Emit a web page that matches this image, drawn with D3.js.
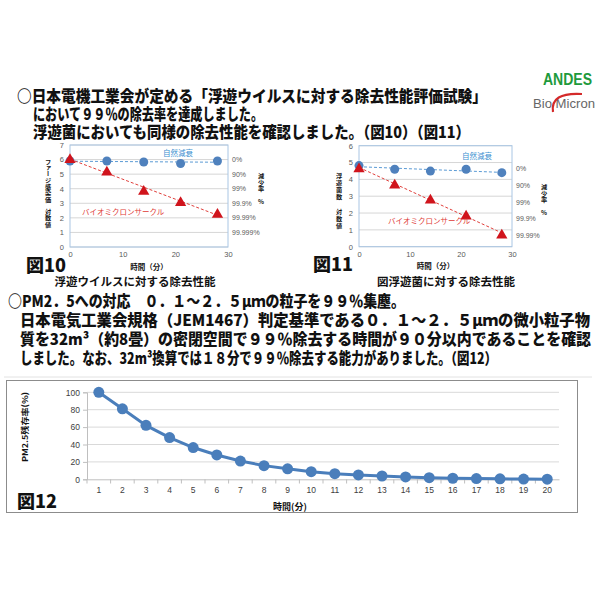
<!DOCTYPE html>
<html><head><meta charset="utf-8">
<script src="https://cdn.jsdelivr.net/npm/d3@7"></script>
<style>body{margin:0;background:#fff}svg{display:block}</style>
</head><body><svg id="c" width="600" height="600"></svg>
<script>
// ---------- data ----------
const headerLines = [
  "○日本電機工業会が定める「浮遊ウイルスに対する除去性能評価試験」",
  "において９９％の除去率を達成しました。",
  "浮遊菌においても同様の除去性能を確認しました。（図10）（図11）"
];
const pmLines = [
  "○PM2．5への対応　０．１～２．５μｍの粒子を９９％集塵。",
  "日本電気工業会規格（JEM1467）判定基準である０．１～２．５μｍの微小粒子物",
  "質を32m³（約8畳）の密閉空間で９９％除去する時間が９０分以内であることを確認",
  "しました。なお、32m³換算では１８分で９９％除去する能力がありました。（図12）"
];
const time = [0, 7, 14, 21, 28];
const timeTicks = [0, 10, 20, 30];
const natural10 = [5.9, 5.9, 5.83, 5.73, 5.9];
const bio10 = [6.05, 5.2, 3.88, 3.1, 2.3];
const reduction10 = ["0%", "90%", "99%", "99.9%", "99.99%", "99.999%"];
const natural11 = [4.82, 4.6, 4.49, 4.6, 4.4];
const bio11 = [4.68, 3.71, 2.82, 1.87, 0.74];
const reduction11 = ["0%", "90%", "99%", "99.9%", "99.99%"];
const minutes = ["1","2","3","4","5","6","7","8","9","10","11","12","13","14","15","16","17","18","19","20"];
const remain = [100, 81, 62, 48, 36.5, 28, 21, 15.7, 12, 8.8, 6.5, 5, 3.8, 2.7, 1.9, 1.2, 0.8, 0.5, 0.3, 0.2];
const remainTicks = [0, 20, 40, 60, 80, 100];

// ---------- setup ----------
const svg = d3.select("#c");
svg.append("rect").attr("width", 600).attr("height", 600).attr("fill", "#fff");
const JP = "'Noto Sans CJK JP','Noto Sans',sans-serif";
const NUM = "'Liberation Sans',Arial,sans-serif";

function fitText(x, y, str, size, len, sy) {
  return svg.append("text").attr("transform", `translate(${x},${y}) scale(1,${sy})`)
    .attr("x", 0).attr("y", 0)
    .attr("dominant-baseline", "central")
    .attr("font-family", JP).attr("font-weight", 900).attr("font-size", size)
    .attr("fill", "#111")
    .attr("textLength", len).attr("lengthAdjust", "spacingAndGlyphs")
    .text(str);
}

// header
const hdr = [[17, 95, 470], [33, 113, 230], [33, 131, 437]];
headerLines.forEach((s, i) => fitText(hdr[i][0], hdr[i][1], s, 14, hdr[i][2], 1.15));
const pmPos = [[8, 300, 397], [20, 319, 570], [20, 338, 571], [20, 357, 477]];
pmLines.forEach((s, i) => fitText(pmPos[i][0], pmPos[i][1], s, 14, pmPos[i][2], 1.12));

// logo
svg.append("text").attr("x", 543).attr("y", 85).attr("font-family", NUM)
  .attr("font-weight", 700).attr("font-size", 16)
  .attr("fill", "#1e9a3c").attr("textLength", 49).attr("lengthAdjust", "spacingAndGlyphs").text("ANDES");
svg.append("text").attr("x", 533).attr("y", 108).attr("font-family", NUM)
  .attr("font-size", 12.5).attr("fill", "#666").attr("textLength", 62)
  .attr("lengthAdjust", "spacingAndGlyphs").text("Bio Micron");
svg.append("path").attr("d", "M553,112 Q550,92 582,94").attr("fill", "none")
  .attr("stroke", "#d42a2a").attr("stroke-width", 2.2);

// separator
svg.append("line").attr("x1", 4).attr("x2", 592).attr("y1", 377).attr("y2", 377)
  .attr("stroke", "#e2e2e2");

function linFit(xs, ys) {
  const mx = d3.mean(xs), my = d3.mean(ys);
  const sxy = d3.sum(xs, (x, i) => (x - mx) * (ys[i] - my));
  const sxx = d3.sum(xs, x => (x - mx) * (x - mx));
  const b = sxy / sxx;
  return x => my + b * (x - mx);
}

function vText(g, x, yc, str, size, spacing) {
  g.append("text").attr("x", x).attr("y", yc)
    .attr("text-anchor", "middle")
    .style("writing-mode", "vertical-rl").style("text-orientation", "upright")
    .style("letter-spacing", spacing + "px")
    .attr("font-family", JP).attr("font-weight", 700).attr("font-size", size).attr("fill", "#111")
    .text(str);
}

function logChart(c) {
  const g = svg.append("g");
  const x = d3.scaleLinear([0, 30], [c.x0, c.x1]);
  const y = d3.scaleLinear([0, c.yMax], [c.y1, c.y0]);
  const yt = d3.range(0, c.yMax + 1);
  g.selectAll(".gl").data(yt).join("line")
    .attr("x1", c.x0).attr("x2", c.x1).attr("y1", d => y(d)).attr("y2", d => y(d))
    .attr("stroke", "#d6d6d6");
  g.append("rect").attr("x", c.x0).attr("y", c.y0).attr("width", c.x1 - c.x0)
    .attr("height", c.y1 - c.y0).attr("fill", "none").attr("stroke", "#a9c6e4");
  const ay = g.append("g").attr("transform", `translate(${c.x0},0)`)
    .call(d3.axisLeft(y).tickValues(yt).tickFormat(d3.format("d")).tickSize(0).tickPadding(6));
  const ax = g.append("g").attr("transform", `translate(0,${c.y1})`)
    .call(d3.axisBottom(x).tickValues(timeTicks).tickFormat(d3.format("d")).tickSize(0).tickPadding(5));
  [ay, ax].forEach(a => {
    a.select(".domain").remove();
    a.selectAll("text").attr("font-family", NUM).attr("font-size", 7.5).attr("fill", "#595959");
  });
  g.selectAll(".rl").data(c.red).join("text")
    .attr("x", c.x1 + 4).attr("y", (d, i) => y(c.base - i))
    .attr("dominant-baseline", "central").attr("font-family", NUM)
    .attr("font-size", 7).attr("fill", "#595959").text(d => d);
  const fn = linFit(time, c.natural), fb = linFit(time, c.bio);
  g.append("line").attr("x1", x(0)).attr("x2", x(28)).attr("y1", y(fn(0))).attr("y2", y(fn(28)))
    .attr("stroke", "#5b9bd5").attr("stroke-dasharray", "3,2").attr("stroke-width", 1);
  g.append("line").attr("x1", x(0)).attr("x2", x(28)).attr("y1", y(fb(0))).attr("y2", y(fb(28)))
    .attr("stroke", "#e0403c").attr("stroke-dasharray", "3,2").attr("stroke-width", 1);
  g.selectAll(".nc").data(c.natural).join("circle")
    .attr("cx", (d, i) => x(time[i])).attr("cy", d => y(d)).attr("r", 4.5).attr("fill", "#4f81bd");
  g.selectAll(".bt").data(c.bio).join("path")
    .attr("d", d3.symbol(d3.symbolTriangle).size(55))
    .attr("transform", (d, i) => `translate(${x(time[i])},${y(d) + 1})`).attr("fill", "#d0141c");
  g.append("text").attr("x", c.natLbl[0]).attr("y", c.natLbl[1]).attr("dominant-baseline", "central")
    .attr("font-family", JP).attr("font-size", 7.5).attr("fill", "#3b8fd0").text("自然減衰");
  g.append("text").attr("x", c.bioLbl[0]).attr("y", c.bioLbl[1]).attr("dominant-baseline", "central")
    .attr("font-family", JP).attr("font-size", 7.5).attr("fill", "#e03a36").text("バイオミクロンサークル");
  vText(g, c.lt[0], c.lt[1], c.leftTitle, 6.2, c.lt[2]);
  vText(g, c.rt[0], c.rt[1], "減少率 %", 6.2, 0.4);
  g.append("text").attr("x", (c.x0 + c.x1) / 2).attr("y", c.y1 + 19).attr("text-anchor", "middle")
    .attr("dominant-baseline", "central").attr("font-family", JP).attr("font-weight", 700)
    .attr("font-size", 7.5).attr("fill", "#111").text("時間（分）");
  g.append("text").attr("x", c.fig[0]).attr("y", c.fig[1]).attr("dominant-baseline", "central")
    .attr("font-family", JP).attr("font-weight", 900).attr("font-size", 18).attr("fill", "#111")
    .text(c.figName);
  g.append("text").attr("x", c.sub[0]).attr("y", c.sub[1]).attr("text-anchor", "middle")
    .attr("dominant-baseline", "central").attr("font-family", JP).attr("font-weight", 700)
    .attr("font-size", 11.5).attr("fill", "#111").text(c.subTitle);
}

logChart({
  x0: 70, x1: 228, y0: 145, y1: 247, yMax: 7, natural: natural10, bio: bio10,
  red: reduction10, base: 6, leftTitle: "ファージ感染価 対数値", lt: [48, 193, 0.1],
  rt: [261, 189], natLbl: [163, 152], bioLbl: [82, 211],
  fig: [26, 264], figName: "図10", sub: [135, 281], subTitle: "浮遊ウイルスに対する除去性能"
});
logChart({
  x0: 359, x1: 512, y0: 145.7, y1: 246.7, yMax: 6, natural: natural11, bio: bio11,
  red: reduction11, base: 4.65, leftTitle: "浮遊菌数 対数値", lt: [339, 201, 1],
  rt: [544, 200], natLbl: [462, 155], bioLbl: [388, 220],
  fig: [313, 263], figName: "図11", sub: [446, 281], subTitle: "図浮遊菌に対する除去性能"
});

// ---------- chart 12 ----------
{
  const g = svg.append("g");
  g.append("rect").attr("x", 6.5).attr("y", 380.5).attr("width", 571).attr("height", 132)
    .attr("fill", "none").attr("stroke", "#8c8c8c");
  const x = d3.scaleBand(minutes, [87, 559]);
  const y = d3.scaleLinear([0, 100], [479.3, 392.3]);
  g.selectAll(".gl").data(remainTicks.slice(1)).join("line")
    .attr("x1", 87).attr("x2", 559).attr("y1", d => y(d)).attr("y2", d => y(d)).attr("stroke", "#d9d9d9");
  const ay = g.append("g").attr("transform", "translate(87,0)")
    .call(d3.axisLeft(y).tickValues(remainTicks).tickSize(4).tickPadding(3));
  const ax = g.append("g").attr("transform", "translate(0,479.3)")
    .call(d3.axisBottom(x).tickSize(0).tickPadding(8));
  [ay, ax].forEach(a => {
    a.select(".domain").attr("stroke", "#bfbfbf");
    a.selectAll("line").attr("stroke", "#bfbfbf");
    a.selectAll("text").attr("font-family", NUM).attr("font-size", 8.5).attr("fill", "#404040");
  });
  g.selectAll(".bt").data(minutes).join("line")
    .attr("x1", d => x(d)).attr("x2", d => x(d)).attr("y1", 479.3).attr("y2", 483.5).attr("stroke", "#bfbfbf");
  const cx = d => x(d) + x.bandwidth() / 2;
  g.append("path").datum(remain)
    .attr("d", d3.line().x((d, i) => cx(minutes[i])).y(d => y(d)))
    .attr("fill", "none").attr("stroke", "#4a7ebb").attr("stroke-width", 3);
  g.selectAll(".pt").data(remain).join("circle")
    .attr("cx", (d, i) => cx(minutes[i])).attr("cy", d => y(d)).attr("r", 5.5).attr("fill", "#4a7ebb");
  g.append("text").attr("transform", "translate(24,427) rotate(-90)").attr("text-anchor", "middle")
    .attr("dominant-baseline", "central").attr("font-family", JP).attr("font-weight", 700)
    .attr("font-size", 8).attr("fill", "#111").attr("textLength", 70).attr("lengthAdjust", "spacingAndGlyphs")
    .text("PM2.5残存率(%)");
  g.append("text").attr("x", 290).attr("y", 506).attr("text-anchor", "middle")
    .attr("dominant-baseline", "central").attr("font-family", JP).attr("font-weight", 700)
    .attr("font-size", 9).attr("fill", "#111").text("時間(分)");
  g.append("text").attr("x", 17).attr("y", 500).attr("dominant-baseline", "central")
    .attr("font-family", JP).attr("font-weight", 900).attr("font-size", 18).attr("fill", "#111")
    .text("図12");
}
</script></body></html>
